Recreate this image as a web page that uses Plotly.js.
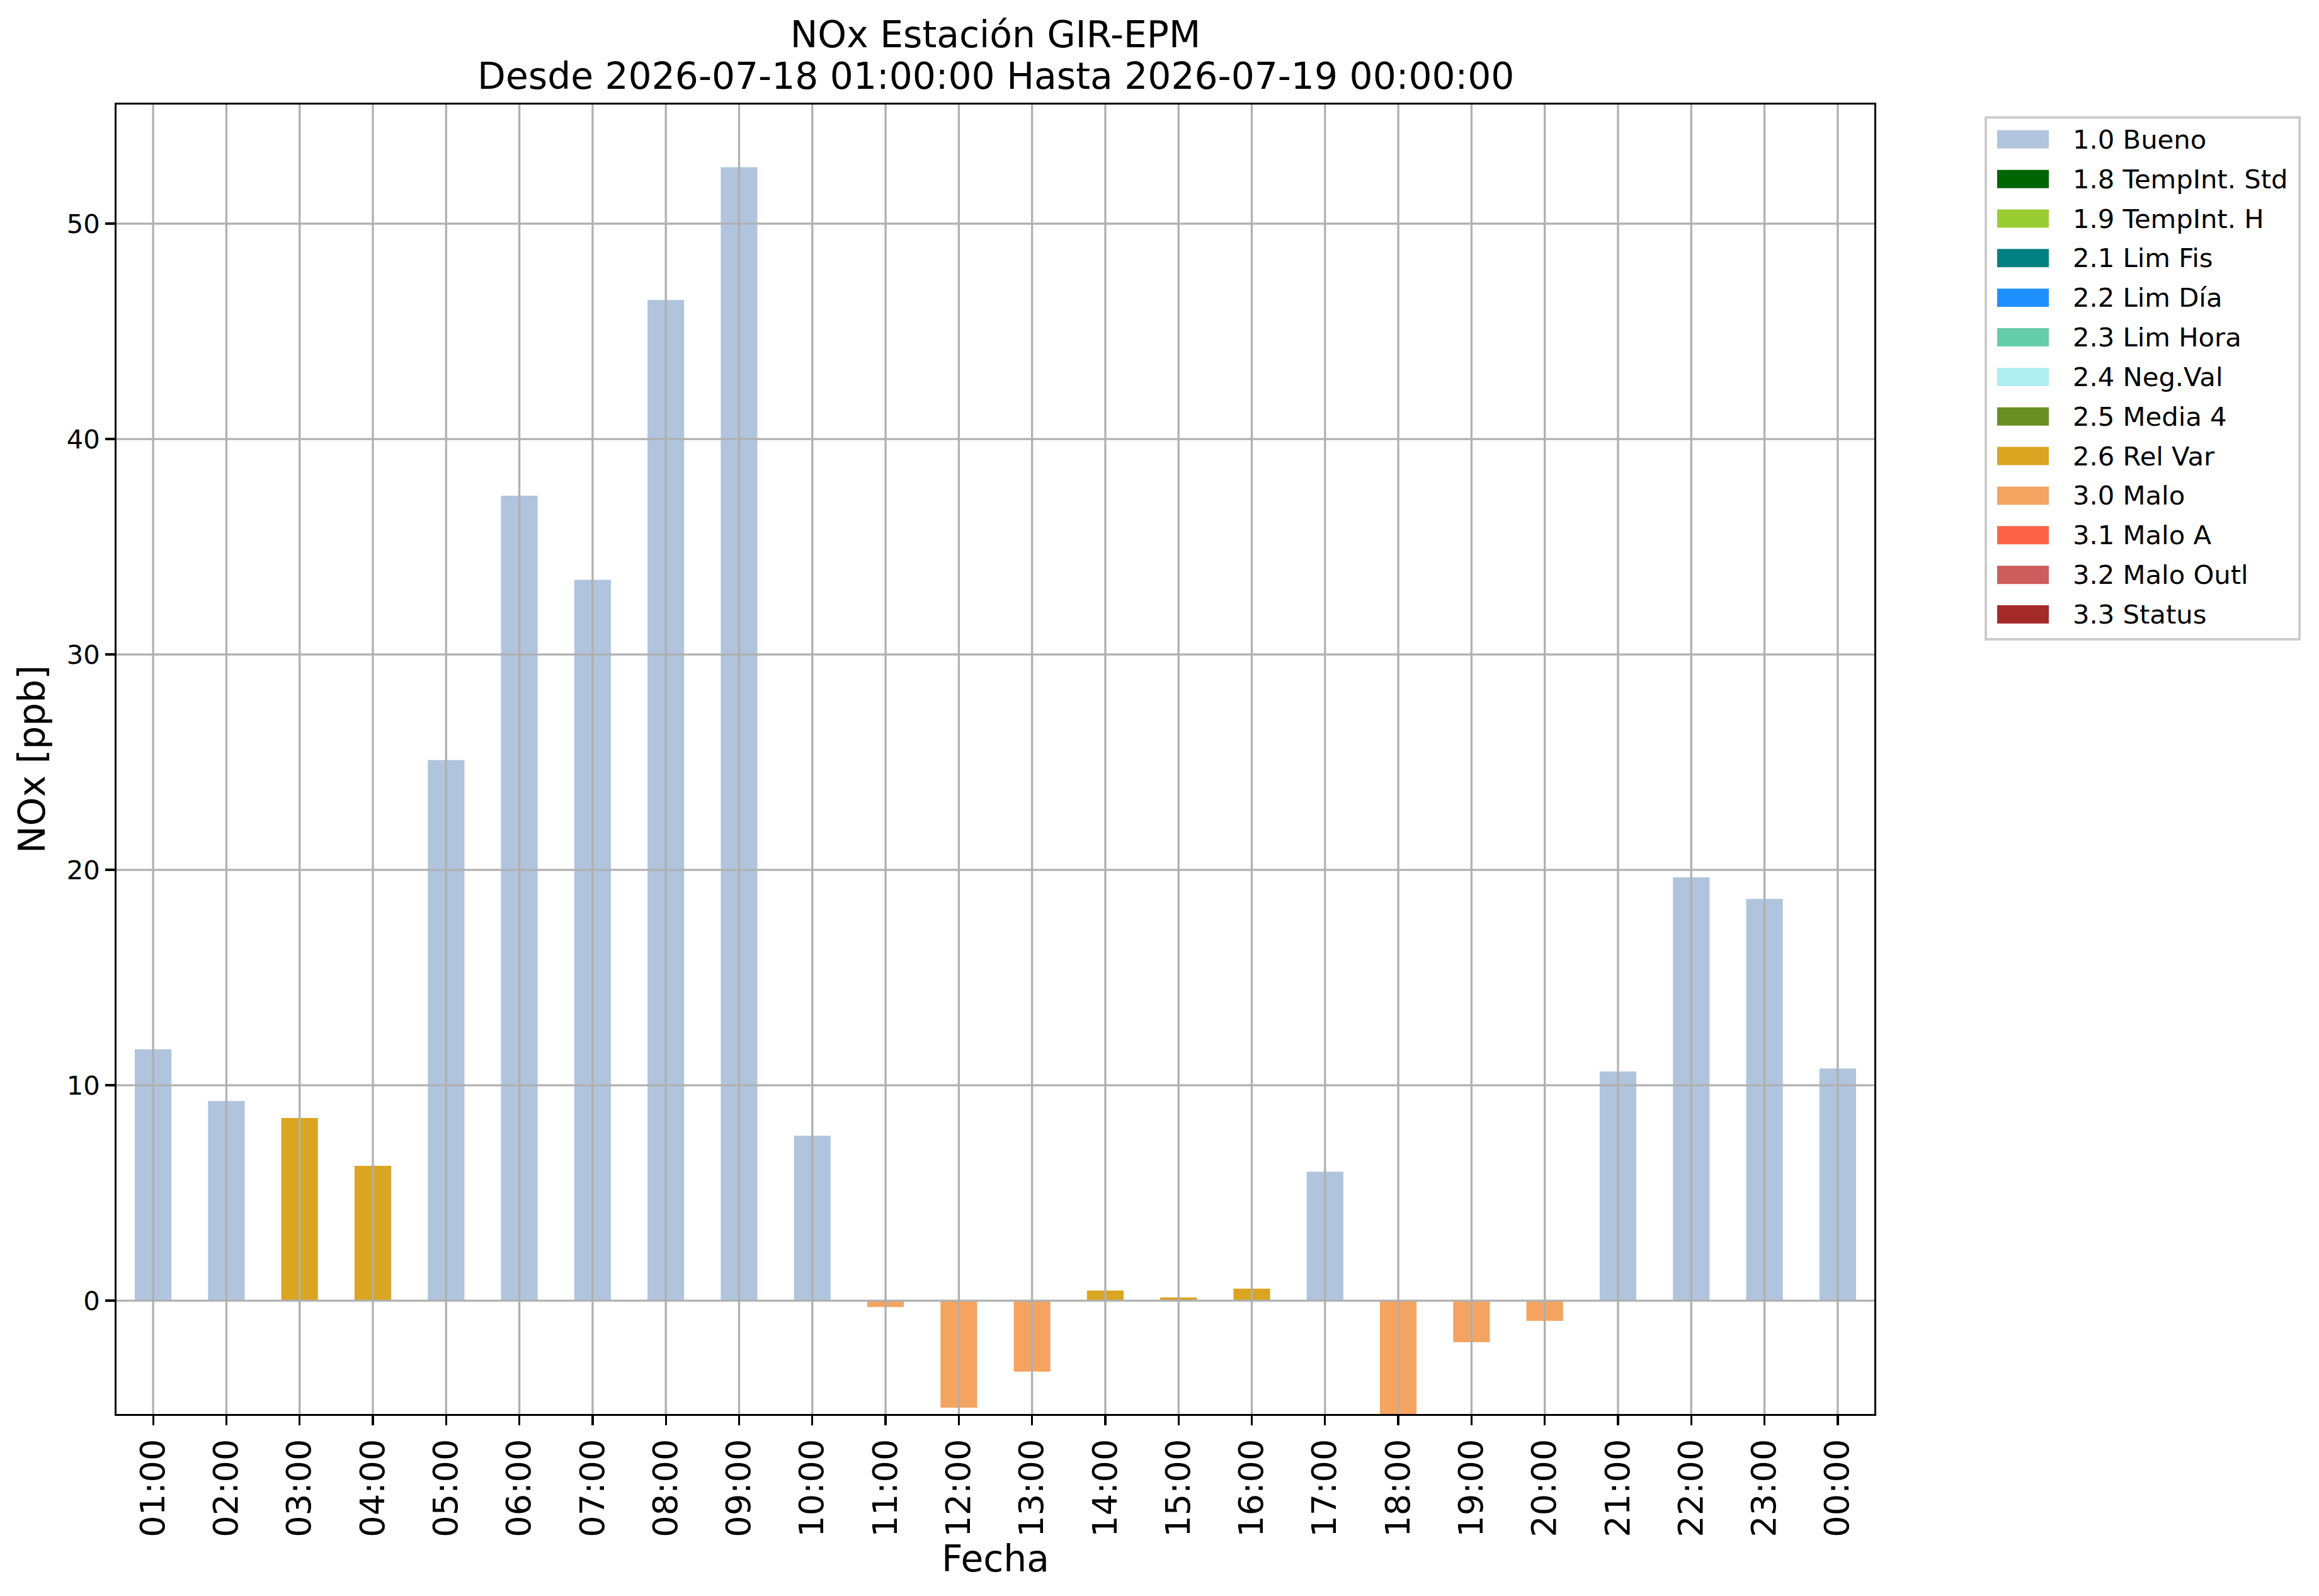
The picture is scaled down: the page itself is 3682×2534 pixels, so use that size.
<!DOCTYPE html>
<html>
<head>
<meta charset="utf-8">
<script src="https://cdn.plot.ly/plotly-3.0.1.min.js"></script>
<style>
  body { margin: 0; background: #fff; }
  #grafica { width: 3682px; height: 2534px; }
</style>
</head>
<body>
<div id="grafica"></div>
<script>
// datos horarios NOx
var horas = ['01:00', '02:00', '03:00', '04:00', '05:00', '06:00', '07:00', '08:00',
             '09:00', '10:00', '11:00', '12:00', '13:00', '14:00', '15:00', '16:00',
             '17:00', '18:00', '19:00', '20:00', '21:00', '22:00', '23:00', '00:00'];
var nox = [11.67, 9.27, 8.48, 6.26, 25.1, 37.37, 33.47, 46.46,
           52.62, 7.66, -0.3, -4.97, -3.29, 0.47, 0.15, 0.56,
           5.99, -5.6, -1.93, -0.94, 10.64, 19.65, 18.65, 10.78];
var banderas = ['1.0', '1.0', '2.6', '2.6', '1.0', '1.0', '1.0', '1.0',
                '1.0', '1.0', '3.0', '3.0', '3.0', '2.6', '2.6', '2.6',
                '1.0', '3.0', '3.0', '3.0', '1.0', '1.0', '1.0', '1.0'];

// codigos de calidad
var codigos = ['1.0', '1.8', '1.9', '2.1', '2.2', '2.3', '2.4', '2.5', '2.6', '3.0', '3.1', '3.2', '3.3'];
var etiquetas = ['1.0 Bueno', '1.8 TempInt. Std', '1.9 TempInt. H', '2.1 Lim Fis', '2.2 Lim Día',
                 '2.3 Lim Hora', '2.4 Neg.Val', '2.5 Media 4', '2.6 Rel Var', '3.0 Malo',
                 '3.1 Malo A', '3.2 Malo Outl', '3.3 Status'];
var colores = ['#B0C4DE', '#006400', '#9ACD32', '#008080', '#1E90FF', '#66CDAA', '#AFEEEE',
               '#6B8E23', '#DAA520', '#F4A460', '#FF6347', '#CD5C5C', '#A52A2A'];

var yTicks = [0, 10, 20, 30, 40, 50];

var titulo = 'NOx Estación GIR-EPM';
var subtitulo = 'Desde 2026-07-18 01:00:00 Hasta 2026-07-19 00:00:00';

// area del grafico en pixeles
var W = 3682, H = 2534;
var L = 185, R = 2976, T = 166, B = 2245;
function px(x) { return (x - L) / (R - L); }
function py(y) { return (B - y) / (B - T); }

var fuente = 'DejaVu Sans';
var gris = '#b0b0b0';

var data = [];
for (var k = 0; k < codigos.length; k++) {
    var yy = [];
    for (var i = 0; i < horas.length; i++) {
        yy.push(banderas[i] === codigos[k] ? nox[i] : null);
    }
    data.push({
        type: 'bar', x: horas, y: yy, name: etiquetas[k], width: 0.5,
        marker: { color: colores[k], line: { width: 0 } },
        showlegend: false, hoverinfo: 'x+y'
    });
}

var shapes = [];
var annotations = [];

// rejilla por encima de las barras
for (var i = 0; i < horas.length; i++) {
    shapes.push({ type: 'line', xref: 'x', yref: 'paper', x0: i, x1: i, y0: 0, y1: 1,
                  layer: 'above', line: { color: gris, width: 3.3 } });
}
for (var j = 0; j < yTicks.length; j++) {
    shapes.push({ type: 'line', xref: 'paper', yref: 'y', x0: 0, x1: 1, y0: yTicks[j], y1: yTicks[j],
                  layer: 'above', line: { color: gris, width: 3.3 } });
}

// segunda linea del titulo
annotations.push({ xref: 'paper', yref: 'paper', x: 0.5, y: py(120.8),
                   xanchor: 'center', yanchor: 'middle', showarrow: false,
                   text: subtitulo, font: { family: fuente, size: 58.3, color: 'black' } });

// leyenda
shapes.push({ type: 'rect', xref: 'paper', yref: 'paper',
              x0: px(3153), x1: px(3651), y0: py(1015), y1: py(186.5),
              line: { color: '#cccccc', width: 4 }, fillcolor: 'white' });
for (var k = 0; k < etiquetas.length; k++) {
    var c = 221.3 + k * 62.85;
    shapes.push({ type: 'rect', xref: 'paper', yref: 'paper',
                  x0: px(3171), x1: px(3253), y0: py(c + 14.5), y1: py(c - 14.5),
                  line: { width: 0 }, fillcolor: colores[k] });
    annotations.push({ xref: 'paper', yref: 'paper', x: px(3289), y: py(c),
                       xanchor: 'left', yanchor: 'middle', showarrow: false,
                       text: etiquetas[k], font: { family: fuente, size: 41.7, color: 'black' } });
}

var layout = {
    width: W, height: H, autosize: false,
    margin: { l: L, r: W - R, t: T, b: H - B, pad: 0 },
    paper_bgcolor: 'white', plot_bgcolor: 'white',
    font: { family: fuente, color: 'black' },
    barmode: 'overlay',
    title: {
        text: titulo,
        font: { family: fuente, size: 58.3, color: 'black' },
        x: px(1580.5), xref: 'paper', xanchor: 'center',
        y: 1 - 54.4 / H, yref: 'container', yanchor: 'middle'
    },
    xaxis: {
        type: 'category', range: [-0.5, 23.5],
        showgrid: false, zeroline: false,
        showline: true, mirror: true, linecolor: 'black', linewidth: 3.3,
        ticks: 'outside', ticklen: 14.6, tickwidth: 3.3, tickcolor: 'black',
        tickangle: -90, tickfont: { family: fuente, size: 54.2, color: 'black' },
        title: { text: 'Fecha', font: { family: fuente, size: 58.3, color: 'black' }, standoff: 2 }
    },
    yaxis: {
        range: [-5.26, 55.53], tickvals: yTicks,
        showgrid: false, zeroline: false,
        showline: true, mirror: true, linecolor: 'black', linewidth: 3.3,
        ticks: 'outside', ticklen: 14.6, tickwidth: 3.3, tickcolor: 'black',
        tickfont: { family: fuente, size: 41.7, color: 'black' },
        title: { text: 'NOx [ppb]', font: { family: fuente, size: 58.3, color: 'black' }, standoff: 16 }
    },
    shapes: shapes,
    annotations: annotations
};

Plotly.newPlot('grafica', data, layout, { staticPlot: true });
</script>
</body>
</html>
